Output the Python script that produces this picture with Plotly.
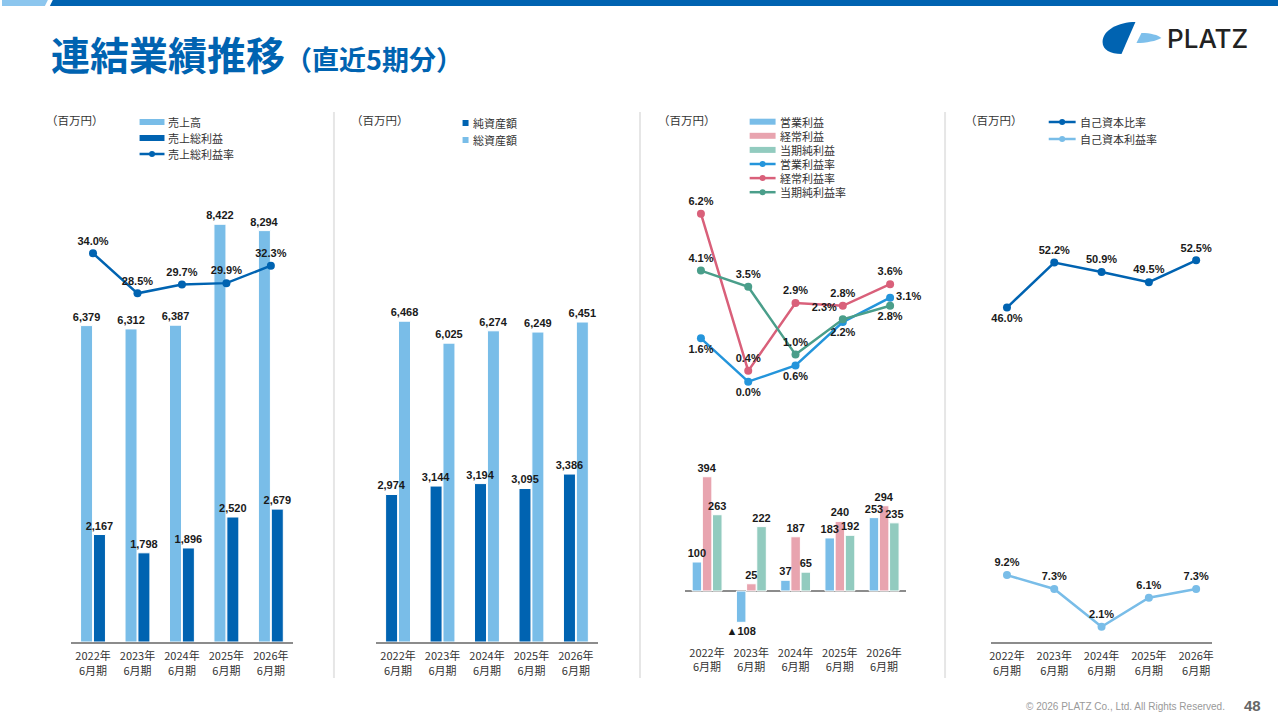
import plotly.graph_objects as go

W, H = 1280, 720

# ---- data ----
periods = ["2022年6月期", "2023年6月期", "2024年6月期", "2025年6月期", "2026年6月期"]
tick_labels = [p.replace("年", "年<br>") for p in periods]

# panel 1: 売上
sales = [6379, 6312, 6387, 8422, 8294]
gross_profit = [2167, 1798, 1896, 2520, 2679]
gross_margin = [34.0, 28.5, 29.7, 29.9, 32.3]

# panel 2: 資産
net_assets = [2974, 3144, 3194, 3095, 3386]
total_assets = [6468, 6025, 6274, 6249, 6451]

# panel 3: 利益
op_profit = [100, -108, 37, 183, 253]
ord_profit = [394, 25, 187, 240, 294]
net_income = [263, 222, 65, 192, 235]
op_margin = [1.6, 0.0, 0.6, 2.2, 3.1]
ord_margin = [6.2, 0.4, 2.9, 2.8, 3.6]
net_margin = [4.1, 3.5, 1.0, 2.3, 2.8]

# panel 4: 自己資本
equity_ratio = [46.0, 52.2, 50.9, 49.5, 52.5]
roe = [9.2, 7.3, 2.1, 6.1, 7.3]

unit_label = "（百万円）"

# colours
DARK = "#0063B1"
LIGHT = "#79BDE8"
PINK_BAR = "#E8A4AF"
TEAL_BAR = "#92CBBF"
BLUE_LINE = "#2495DB"
PINK_LINE = "#D9607A"
TEAL_LINE = "#4A9E8A"
AXIS_GREY = "#8c8c8c"

JP = "Noto Sans CJK JP"
LBL = dict(family="Liberation Sans, Arial", size=11, color="#1a1a1a", weight="bold")
TICKF = dict(family=JP, size=11, color="#333333")


def px_x(x):
    return x / W


def px_y(y):
    return 1 - y / H


fig = go.Figure()

# bar groups: (values, name, colour, x axis, y axis, width, offset, labels)
bar_specs = [
    (sales, "売上高", LIGHT, "x", "y", 0.27, -0.28, None),
    (gross_profit, "売上総利益", DARK, "x", "y", 0.27, 0.01, None),
    (net_assets, "純資産額", DARK, "x2", "y3", 0.27, -0.28, None),
    (total_assets, "総資産額", LIGHT, "x2", "y3", 0.27, 0.01, None),
    (op_profit, "営業利益", LIGHT, "x3", "y4", 0.215, -0.335,
     [f"▲{abs(v)}" if v < 0 else f"{v:,}" for v in op_profit]),
    (ord_profit, "経常利益", PINK_BAR, "x3", "y4", 0.215, -0.105, None),
    (net_income, "当期純利益", TEAL_BAR, "x3", "y4", 0.215, 0.125, None),
]

for vals, name, col, xa, ya, w, off, _ in bar_specs:
    fig.add_trace(go.Bar(
        x=tick_labels, y=vals, name=name, xaxis=xa, yaxis=ya, width=w, offset=off,
        marker=dict(color=col, line=dict(color="white", width=1)), hoverinfo="skip"))

# labels on a transparent copy so they sit above neighbouring bars
for vals, name, col, xa, ya, w, off, txt in bar_specs:
    fig.add_trace(go.Bar(
        x=tick_labels, y=vals, name=name, xaxis=xa, yaxis=ya, width=w, offset=off,
        marker=dict(color="rgba(0,0,0,0)", line=dict(width=0)),
        text=txt if txt else [f"{v:,}" for v in vals], texttemplate="%{text}",
        textposition="outside", textfont=LBL, constraintext="none", cliponaxis=False))

# ---- panel 1 line ----
fig.add_trace(go.Scatter(
    x=tick_labels, y=gross_margin, name="売上総利益率", xaxis="x", yaxis="y2",
    mode="lines+markers+text", line=dict(color=DARK, width=2.5), marker=dict(size=8, color=DARK),
    texttemplate="%{y:.1f}%", textposition="top center", textfont=LBL, cliponaxis=False))

# ---- panel 3 lines ----
for vals, name, col, pos in [
    (op_margin, "営業利益率", BLUE_LINE,
     ["bottom center", "bottom center", "bottom center", "bottom center", "middle right"]),
    (ord_margin, "経常利益率", PINK_LINE,
     ["top center"] * 5),
    (net_margin, "当期純利益率", TEAL_LINE,
     ["top center", "top center", "top center", "top left", "bottom center"]),
]:
    fig.add_trace(go.Scatter(
        x=tick_labels, y=vals, name=name, xaxis="x4", yaxis="y5",
        mode="lines+markers+text", line=dict(color=col, width=2.5), marker=dict(size=8, color=col),
        texttemplate="%{y:.1f}%", textposition=pos, textfont=LBL, cliponaxis=False))

# ---- panel 4 ----
fig.add_trace(go.Scatter(
    x=tick_labels, y=equity_ratio, name="自己資本比率", xaxis="x5", yaxis="y6",
    mode="lines+markers+text", line=dict(color=DARK, width=2.5), marker=dict(size=8, color=DARK),
    texttemplate="%{y:.1f}%", textposition=["bottom center"] + ["top center"] * 4,
    textfont=LBL, cliponaxis=False))
fig.add_trace(go.Scatter(
    x=tick_labels, y=roe, name="自己資本利益率", xaxis="x5", yaxis="y6",
    mode="lines+markers+text", line=dict(color=LIGHT, width=2.5), marker=dict(size=8, color=LIGHT),
    texttemplate="%{y:.1f}%", textposition="top center", textfont=LBL, cliponaxis=False))


# ---- axes ----
def xax(x0, x1, anchor, line=True, visible=True):
    return dict(domain=[px_x(x0), px_x(x1)], anchor=anchor, type="category",
                showline=line, linecolor=AXIS_GREY, linewidth=2, ticks="",
                showgrid=False, zeroline=False, tickfont=TICKF, visible=visible,
                ticklabelstandoff=3, fixedrange=True)


def yax(y_top, y_bot, rng, **kw):
    d = dict(domain=[px_y(y_bot), px_y(y_top)], range=rng, visible=False, fixedrange=True)
    d.update(kw)
    return d


main_rng = [0, (642 - 200) / 0.0496]
fig.update_layout(
    xaxis=xax(69, 292, "y"),
    yaxis=yax(200, 642, main_rng),
    yaxis2=dict(overlaying="y", range=[-(642 - 500.5) / 7.27, (500.5 - 200) / 7.27],
                visible=False, fixedrange=True),
    xaxis2=xax(375, 598, "y3"),
    yaxis3=yax(200, 642, main_rng),
    xaxis3=xax(685, 907, "y4", line=False),
    yaxis4=yax(440, 642, [-(642 - 591) / 0.29, (591 - 440) / 0.29], visible=True,
               showticklabels=False, showgrid=False, showline=False, ticks="",
               zeroline=True, zerolinecolor=AXIS_GREY, zerolinewidth=2),
    xaxis4=xax(685, 907, "y5", line=False, visible=False),
    yaxis5=yax(190, 400, [-(400 - 381.7) / 27.1, (381.7 - 190) / 27.1]),
    xaxis5=xax(992, 1214, "y6"),
    yaxis6=yax(200, 642, [0, (642 - 200) / 7.27]),
)

shapes = []
annotations = []


def path_px(cmds):
    out = []
    for c in cmds:
        if isinstance(c, str):
            out.append(c)
        else:
            out.append(f"{px_x(c[0]):.5f},{px_y(c[1]):.5f}")
    return " ".join(out)


# top band
shapes.append(dict(type="path", xref="paper", yref="paper", line=dict(width=0), fillcolor="#8CC6EE",
                   path=path_px(["M", (0, 0), "L", (46, 0), "L", (43, 6), "L", (0, 6), "Z"])))
shapes.append(dict(type="path", xref="paper", yref="paper", line=dict(width=0), fillcolor="#0063B1",
                   path=path_px(["M", (51, 0), "L", (1280, 0), "L", (1280, 6), "L", (48, 6), "Z"])))

# logo
shapes.append(dict(type="path", xref="paper", yref="paper", line=dict(width=0), fillcolor="#0063B1",
                   path=path_px(["M", (1137, 22), "C", (1120, 22), (1104, 30), (1104, 42),
                                 "C", (1104, 50), (1112, 54), (1123, 54), "Z"])))
shapes.append(dict(type="path", xref="paper", yref="paper", line=dict(width=0), fillcolor="#7DBFEB",
                   path=path_px(["M", (1143, 33), "C", (1152, 33), (1160, 35), (1163, 38),
                                 "C", (1158, 41), (1148, 43), (1138, 43), "Z"])))
annotations.append(dict(x=px_x(1167), y=px_y(38), xref="paper", yref="paper", xanchor="left",
                        yanchor="middle", showarrow=False, text="PLATZ",
                        font=dict(family="Inter, Roboto", size=26, color="#222222", weight=500)))

# title
annotations.append(dict(
    x=px_x(47), y=px_y(53), xref="paper", yref="paper", xanchor="left", yanchor="middle",
    showarrow=False,
    text="<b>連結業績推移</b><span style=\"font-size:27px\"><b>（直近5期分）</b></span>",
    font=dict(family=JP, size=39, color="#0063B1")))

# separators
for sx in [333, 640, 946]:
    shapes.append(dict(type="line", xref="paper", yref="paper", x0=px_x(sx), x1=px_x(sx),
                       y0=px_y(112), y1=px_y(678), line=dict(color="#e6e6e6", width=2)))

# unit labels
for ux in [42, 348, 656, 964]:
    annotations.append(dict(x=px_x(ux), y=px_y(120), xref="paper", yref="paper", xanchor="left",
                            yanchor="middle", showarrow=False, text=unit_label,
                            font=dict(family=JP, size=11.5, color="#333333")))


# legends (drawn by hand to match the slide)
def legend_item(kind, x0, y, w, color, text):
    if kind in ("bar", "square"):
        shapes.append(dict(type="rect", xref="paper", yref="paper", x0=px_x(x0), x1=px_x(x0 + w),
                           y0=px_y(y + 3), y1=px_y(y - 3), line=dict(width=0), fillcolor=color))
    else:
        shapes.append(dict(type="line", xref="paper", yref="paper", x0=px_x(x0), x1=px_x(x0 + w),
                           y0=px_y(y), y1=px_y(y), line=dict(color=color, width=2.5)))
        cx = x0 + w / 2
        shapes.append(dict(type="circle", xref="paper", yref="paper", x0=px_x(cx - 3), x1=px_x(cx + 3),
                           y0=px_y(y + 3), y1=px_y(y - 3), line=dict(width=0), fillcolor=color))
    annotations.append(dict(x=px_x(x0 + w + 2), y=px_y(y), xref="paper", yref="paper", xanchor="left",
                            yanchor="middle", showarrow=False, text=text,
                            font=dict(family=JP, size=11, color="#333333")))


legend_item("bar", 138, 122, 25, LIGHT, "売上高")
legend_item("bar", 138, 138, 25, DARK, "売上総利益")
legend_item("line", 138, 154, 25, DARK, "売上総利益率")

legend_item("square", 462, 123, 6, DARK, "純資産額")
legend_item("square", 462, 140, 6, LIGHT, "総資産額")

p3 = [("bar", LIGHT, "営業利益"), ("bar", PINK_BAR, "経常利益"), ("bar", TEAL_BAR, "当期純利益"),
      ("line", BLUE_LINE, "営業利益率"), ("line", PINK_LINE, "経常利益率"), ("line", TEAL_LINE, "当期純利益率")]
for i, (k, c, t) in enumerate(p3):
    legend_item(k, 750, 121.7 + i * 14.1, 26, c, t)

legend_item("line", 1050, 122, 27, DARK, "自己資本比率")
legend_item("line", 1050, 139, 27, LIGHT, "自己資本利益率")

# footer
annotations.append(dict(x=px_x(1229), y=px_y(706), xref="paper", yref="paper", xanchor="right",
                        yanchor="middle", showarrow=False,
                        text="© 2026 PLATZ Co., Ltd. All Rights Reserved.",
                        font=dict(family="Liberation Sans, Arial", size=10, color="#999999")))
annotations.append(dict(x=px_x(1265), y=px_y(705), xref="paper", yref="paper", xanchor="right",
                        yanchor="middle", showarrow=False, text="<b>48</b>",
                        font=dict(family="Liberation Sans, Arial", size=15, color="#666666")))

fig.update_layout(
    width=W, height=H, autosize=False,
    margin=dict(l=0, r=0, t=0, b=0),
    paper_bgcolor="white", plot_bgcolor="white",
    barmode="overlay", showlegend=False,
    shapes=shapes, annotations=annotations,
    font=dict(family=JP, color="#333333"),
)

fig.write_html("out.html", config={"displayModeBar": False},
               post_script="document.body.style.margin='0';document.body.style.overflow='hidden';")
